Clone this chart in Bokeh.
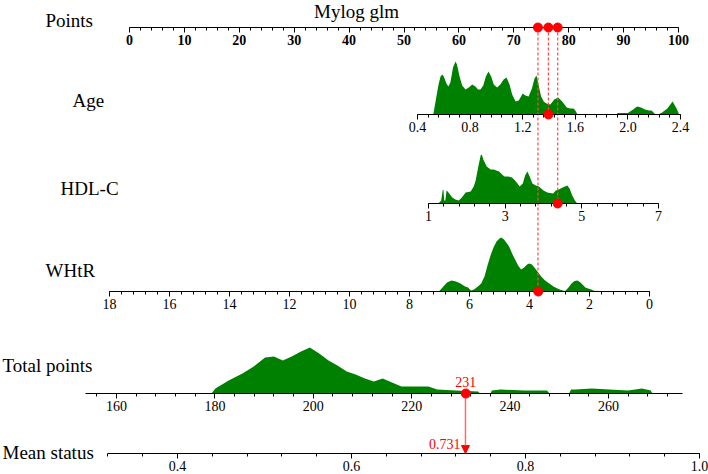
import numpy as np
from bokeh.plotting import figure
from bokeh.models import (Range1d, LinearAxis, FixedTicker, Label, Arrow,
                          NormalHead, PrintfTickFormatter)
from bokeh.embed import file_html
from bokeh.resources import INLINE

# ---------------- data ----------------
row_names = ["Points", "Age", "HDL-C", "WHtR", "Total points", "Mean status"]

points_ticks = [0, 10, 20, 30, 40, 50, 60, 70, 80, 90, 100]
age_ticks = [0.4, 0.8, 1.2, 1.6, 2.0, 2.4]
hdl_ticks = [1, 3, 5, 7]
whtr_ticks = [18, 16, 14, 12, 10, 8, 6, 4, 2, 0]
total_ticks = [160, 180, 200, 220, 240, 260]
mean_ticks = [0.4, 0.6, 0.8, 1.0]

age_x = [0.52, 0.54, 0.56, 0.575, 0.588, 0.60, 0.62, 0.635, 0.65, 0.67,
         0.689, 0.70, 0.72, 0.74, 0.765, 0.79, 0.816, 0.84, 0.86, 0.879,
         0.90, 0.92, 0.94, 0.96, 0.98, 1.005, 1.03, 1.055, 1.077, 1.10,
         1.12, 1.146, 1.17, 1.20, 1.22, 1.245, 1.27, 1.29, 1.305, 1.32,
         1.34, 1.36, 1.38, 1.41, 1.44, 1.47, 1.50, 1.535, 1.56, 1.587,
         1.60, 1.617,
         1.919, 1.92, 2.0, 2.04, 2.07, 2.10, 2.13, 2.16, 2.18, 2.21,
         2.23, 2.26, 2.30, 2.34, 2.37, 2.39]
age_h = [0, 15, 30, 38, 40, 38, 31, 28, 32, 47,
         53, 50, 38, 29, 25, 27, 30, 28, 25, 25,
         29, 38, 43, 38, 30, 27, 30, 35, 37, 30,
         20, 13, 14, 21, 19, 18, 26, 36, 39, 30,
         18, 13, 11, 10, 15, 17, 13, 7, 6, 6,
         4, 0,
         0, 1.5, 1.5, 5, 8, 7, 5, 4, 4, 0,
         0, 2, 6, 13, 6, 0]

hdl_x = [1.26, 1.33, 1.37, 1.39, 1.41, 1.44, 1.47, 1.50, 1.56, 1.62,
         1.70, 1.79, 1.87, 1.97, 2.10, 2.18, 2.23, 2.30, 2.36, 2.39,
         2.43, 2.52, 2.62, 2.70, 2.84, 2.92, 2.98, 3.08, 3.18, 3.28,
         3.38, 3.46, 3.52, 3.58, 3.64, 3.71, 3.80, 3.88, 4.0, 4.10,
         4.25, 4.32, 4.40, 4.50, 4.62, 4.68, 4.75, 4.82, 4.88]
hdl_h = [0, 3, 13, 14, 3, 3, 13, 12, 9, 6,
         4, 3, 6, 11, 12, 17, 23, 37, 48, 49,
         44, 37, 34, 34, 32, 29, 27, 27, 26, 22,
         17, 20, 28, 32, 27, 20, 18, 17, 13, 11,
         10, 13, 14, 16, 18, 15, 8, 3, 0]

whtr_x = [7.02, 6.9, 6.75, 6.6, 6.45, 6.3, 6.15, 6.05, 5.95, 5.85,
          5.72, 5.61, 5.5, 5.4, 5.3, 5.2, 5.1, 5.0, 4.94, 4.85,
          4.75, 4.68, 4.58, 4.48, 4.38, 4.28, 4.18, 4.08, 4.01, 3.92,
          3.81, 3.71, 3.61, 3.48, 3.34, 3.2, 3.07, 2.95, 2.81, 2.7,
          2.6, 2.5, 2.40, 2.3, 2.2, 2.14, 2.05, 1.94, 1.85, 1.7,
          1.54, 1.53]
whtr_h = [0, 4, 9, 11, 10, 8, 5, 4, 1, 2,
          5, 8, 15, 26, 36, 44, 50, 53, 54, 52,
          48, 45, 38, 32, 26, 22, 24, 27, 28, 27,
          23, 19, 15, 11, 8, 5, 3, 1.5, 0.5, 4,
          8, 10.5, 11, 9, 6, 4, 3, 2, 0.8, 0.5,
          0.5, 0]

total_x = [179.3, 180.1, 182.8, 185.6, 187.9, 190.2, 192.0, 193.8, 195.6, 197.5,
           199.3, 201.2, 203.1, 204.9, 206.8, 208.6, 210.5, 212.3, 214.1, 216.0,
           217.9, 219.7, 223.4, 225.2, 228.9, 233.5, 233.9, 236.0, 236.3, 238.1,
           242.8, 247.5, 248.0, 252.0, 252.4, 253.3, 256.6, 260.2, 264.0, 266.8,
           268.6, 268.9]
total_h = [0, 5, 13, 20, 27, 36, 37, 33, 37, 42,
           46, 40, 33, 28, 22, 19, 15, 12, 15, 11,
           7, 7, 7, 4, 3, 2, 0, 0, 3, 4,
           3, 3, 0, 0, 4, 4, 5, 4, 3, 5,
           3, 0]

# the example patient
patient_age = 1.396
patient_hdl = 4.37
patient_whtr = 3.71
patient_points = [76.3, 78.0, 74.4]     # Age, HDL-C, WHtR
patient_total = 231
patient_prob = 0.731

# ---------------- layout ----------------
W, H = 708, 474
FONT = "Liberation Serif"
GREEN = "#008000"

# value -> pixel x  (a + b*v)
scales = {
    "points": (129.0, 5.49),
    "age": (364.4, 131.5),
    "hdl": (389.67, 38.333),
    "whtr": (649.0, -30.0),
    "total": (-671.2, 4.92),
    "mean": (-171.0, 870.0),
}
# baseline (axis line) pixel y of every row
base = {"points": 27, "age": 114, "hdl": 203, "whtr": 291, "total": 393, "mean": 453}

p = figure(width=W, height=H, output_backend="svg", toolbar_location=None,
           x_range=Range1d(0, W), y_range=Range1d(H, 0),
           x_axis_type=None, y_axis_type=None, min_border=0,
           outline_line_color=None, background_fill_color="white",
           border_fill_color="white")

extra_x = {}
extra_y = {}
for key, (a, b) in scales.items():
    extra_x[key] = Range1d((0 - a) / b, (W - a) / b)
    yb = base[key]
    extra_y["d_" + key] = Range1d(yb - H, yb)
p.extra_x_ranges = extra_x
p.extra_y_ranges = extra_y

# densities
for key, xs, hs in [("age", age_x, age_h), ("hdl", hdl_x, hdl_h),
                    ("whtr", whtr_x, whtr_h), ("total", total_x, total_h)]:
    p.varea(x=xs, y1=0, y2=hs, x_range_name=key, y_range_name="d_" + key,
            fill_color=GREEN)

# axes
axis_specs = [
    ("points", points_ticks, list(range(0, 101, 2)), (0, 100), None, "bold"),
    ("age", age_ticks, list(np.round(np.arange(0.4, 2.4001, 0.08), 3)), (0.4, 2.4), "%.1f", "normal"),
    ("hdl", hdl_ticks, list(np.round(np.arange(1, 7.001, 0.4), 3)), (1, 7), None, "normal"),
    ("whtr", whtr_ticks, list(np.round(np.arange(0, 18.001, 0.4), 3)), (0, 18), None, "normal"),
    ("total", total_ticks, list(range(156, 275, 4)), (153.7, 275.0), None, "normal"),
    ("mean", mean_ticks, list(np.round(np.arange(0.32, 1.0001, 0.04), 3)), (0.32, 1.0), "%.1f", "normal"),
]
for key, major, minor, bounds, fmt, weight in axis_specs:
    ax = LinearAxis(x_range_name=key, y_range_name="d_" + key, fixed_location=0,
                    bounds=bounds, ticker=FixedTicker(ticks=major, minor_ticks=minor),
                    major_label_text_font=FONT, major_label_text_font_size="14px",
                    major_label_text_font_style=weight, major_label_text_color="black",
                    axis_line_color="black", axis_line_width=1,
                    major_tick_line_color="black", minor_tick_line_color="black",
                    major_tick_in=0, major_tick_out=5, minor_tick_in=0, minor_tick_out=3,
                    major_label_standoff=2)
    if fmt:
        ax.formatter = PrintfTickFormatter(format=fmt)
    p.add_layout(ax, "below")

# dashed guide lines from the points axis to each variable axis
for key, pts in zip(["age", "hdl", "whtr"], patient_points):
    p.segment(x0=[pts], x1=[pts], y0=[base["points"]], y1=[base[key]],
              x_range_name="points", line_color="#ff4848", line_width=1.2,
              line_dash="3 2")

# red dots
r = p.scatter(x=patient_points, y=[0, 0, 0], x_range_name="points",
              y_range_name="d_points", size=9, color="red")
r.level = "overlay"
for key, val in [("age", patient_age), ("hdl", patient_hdl), ("whtr", patient_whtr),
                 ("total", patient_total)]:
    r = p.scatter(x=[val], y=[0], x_range_name=key, y_range_name="d_" + key,
                  size=9, color="red")
    r.level = "overlay"

# arrow total -> mean status
p.add_layout(Arrow(x_start=patient_prob, x_end=patient_prob,
                   y_start=base["total"], y_end=base["mean"],
                   x_range_name="mean", line_color="#ff6a6a", line_width=1.5,
                   end=NormalHead(size=8, fill_color="red", line_color="red")))

p.add_layout(Label(x=patient_total, y=381, x_range_name="total",
                   text=str(patient_total), text_align="center", text_baseline="middle",
                   text_font=FONT, text_font_size="14px", text_color="red"))
p.add_layout(Label(x=patient_prob, y=443, x_range_name="mean", x_offset=-5,
                   text="%.3f" % patient_prob, text_align="right", text_baseline="middle",
                   text_font=FONT, text_font_size="14px", text_color="red"))

# title and row names
p.add_layout(Label(x=356, y=11, text="Mylog glm", text_align="center",
                   text_baseline="middle", text_font=FONT, text_font_size="19px",
                   text_color="black"))
label_pos = {"Points": (45, 20), "Age": (72, 100), "HDL-C": (60, 188),
             "WHtR": (45, 270), "Total points": (2, 365), "Mean status": (2, 452)}
for name in row_names:
    lx, ly = label_pos[name]
    p.add_layout(Label(x=lx, y=ly, text=name, text_align="left",
                       text_baseline="middle", text_font=FONT, text_font_size="19px",
                       text_color="black"))

open("out.html", "w").write(file_html(p, INLINE))
